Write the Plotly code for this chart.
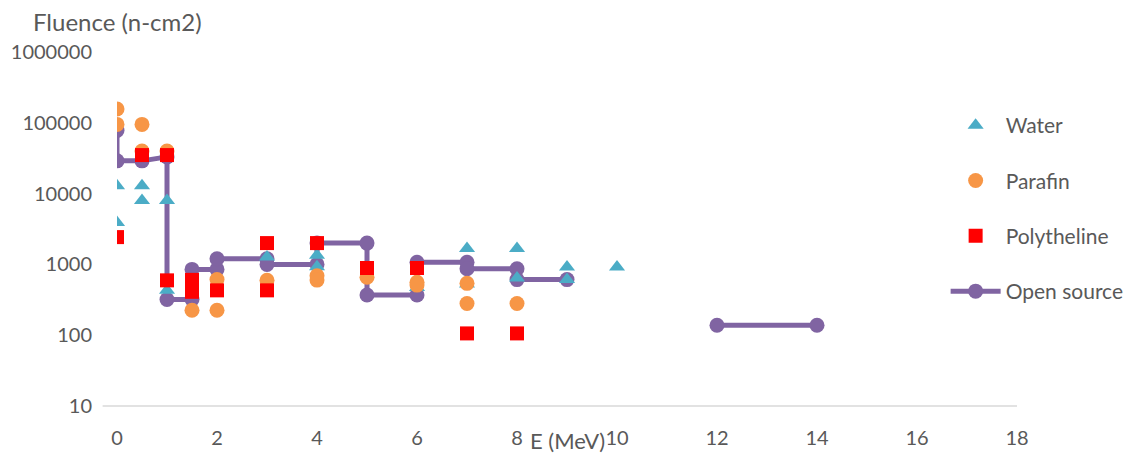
import plotly.graph_objects as go

# ---- data ----
water_x = [0, 0, 0.5, 0.5, 1, 1, 3, 4, 4, 6, 7, 7, 8, 8, 9, 9, 10]
water_y = [12900, 3900, 12900, 8000, 8000, 430, 1270, 1350, 930, 470, 1680, 530, 1680, 640, 920, 610, 920]

parafin_x = [0, 0, 0.5, 0.5, 1, 1.5, 2, 2, 3, 4, 4, 5, 6, 6, 7, 7, 8]
parafin_y = [157000, 95000, 95000, 40000, 40000, 225, 610, 225, 595, 690, 600, 660, 560, 510, 540, 280, 280]

poly_x = [0, 0.5, 1, 1, 1.5, 1.5, 2, 3, 3, 4, 5, 6, 7, 8]
poly_y = [2430, 35000, 35000, 595, 605, 410, 430, 2000, 430, 2000, 890, 890, 106, 106]

open_x = [0, 0, 0.5, 1, 1, 1.5, 1.5, 2, 2, 3, 3, 4, 4, 5, 5, 6, 6, 7, 7, 8, 8, 9, None, 12, 14]
open_y = [78000, 29000, 29000, 33000, 320, 320, 850, 850, 1200, 1200, 1000, 1000, 2000, 2000, 370, 370,
          1070, 1070, 870, 870, 610, 610, None, 138, 138]

x_ticks = [0, 2, 4, 6, 8, 10, 12, 14, 16, 18]
y_ticks = [10, 100, 1000, 10000, 100000, 1000000]

FONT = "Lato"
GREY = "#595959"

fig = go.Figure()
fig.add_trace(go.Scatter(x=open_x, y=open_y, mode="lines+markers", name="Open source",
                         line=dict(color="#8064A2", width=5),
                         marker=dict(color="#8064A2", size=15, symbol="circle"),
                         legendgroup="d", legendrank=4, connectgaps=False))
fig.add_trace(go.Scatter(x=water_x, y=water_y, mode="markers", name="Water",
                         marker=dict(color="#4BACC6", size=14, symbol="triangle-up"),
                         legendgroup="a", legendrank=1))
fig.add_trace(go.Scatter(x=parafin_x, y=parafin_y, mode="markers", name="Parafin",
                         marker=dict(color="#F79646", size=15, symbol="circle"),
                         legendgroup="b", legendrank=2))
fig.add_trace(go.Scatter(x=poly_x, y=poly_y, mode="markers", name="Polytheline",
                         marker=dict(color="#FF0000", size=14, symbol="square"),
                         legendgroup="c", legendrank=3))

# page body has an 8px default margin, so the figure is sized/offset to compensate
fig.update_layout(
    width=1127, height=445,
    margin=dict(l=109, r=118, t=44, b=47, autoexpand=False),
    paper_bgcolor="white", plot_bgcolor="white",
    font=dict(family=FONT, size=20, color=GREY),
    showlegend=True,
    legend=dict(x=0.9207, y=0.85, xanchor="left", yanchor="top",
                tracegroupgap=25, font=dict(size=21, color=GREY),
                bgcolor="rgba(0,0,0,0)", itemwidth=50),
    xaxis=dict(range=[0, 18], tickvals=x_ticks, ticktext=[str(v) for v in x_ticks],
               showgrid=False, zeroline=False, showline=False, automargin=False,
               ticks="", ticklabelstandoff=18,
               tickfont=dict(family=FONT, size=20, color=GREY)),
    yaxis=dict(type="log", range=[1, 6], tickvals=y_ticks, ticktext=[str(v) for v in y_ticks],
               showgrid=False, zeroline=False, showline=False, ticks="", automargin=False,
               ticklabelstandoff=24,
               tickfont=dict(family=FONT, size=20, color=GREY)),
    shapes=[dict(type="line", xref="paper", yref="paper", x0=-0.016, x1=1.0, y0=0, y1=0,
                 line=dict(color="#D9D9D9", width=1.5), layer="below")],
    annotations=[
        dict(text="Fluence (n-cm2)", xref="paper", yref="paper", x=-0.0956, y=1.0,
             xanchor="left", yanchor="bottom", yshift=14, showarrow=False,
             font=dict(family=FONT, size=24, color=GREY)),
        dict(text="E (MeV)", xref="paper", yref="paper", x=0.5, y=0,
             xanchor="center", yanchor="middle", yshift=-34, showarrow=False,
             font=dict(family=FONT, size=22, color=GREY)),
    ],
)

fig.write_html("out.html")
